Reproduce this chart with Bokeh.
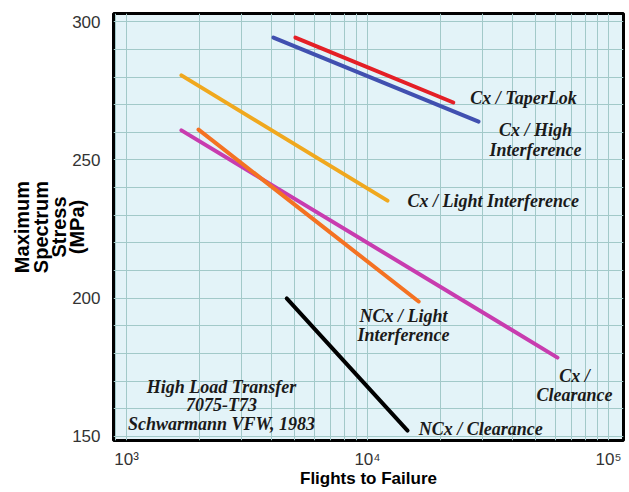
from bokeh.plotting import figure
from bokeh.models import FixedTicker, CustomJSTickFormatter, Label
from bokeh.embed import file_html
from bokeh.resources import INLINE

# ---- data ----
series_names = ["Cx / TaperLok", "Cx / High Interference", "Cx / Light Interference",
                "Cx / Clearance", "NCx / Light Interference", "NCx / Clearance"]
taperlok_n = [5020, 22700]
taperlok_s = [294.3, 270.8]
high_int_n = [4070, 28900]
high_int_s = [294.3, 263.9]
light_int_n = [1690, 12100]
light_int_s = [280.6, 235.3]
clearance_n = [1690, 61400]
clearance_s = [260.7, 178.5]
ncx_light_n = [1990, 16300]
ncx_light_s = [261.0, 198.8]
ncx_clear_n = [4620, 14660]
ncx_clear_s = [199.9, 152.1]

y_ticks = [150, 200, 250, 300]
x_ticks = [1000, 10000, 100000]

colors = ["#e41f26", "#4150b0", "#f0a81e", "#c83caf", "#f47222", "#000000"]

p = figure(frame_width=510, frame_height=427, x_axis_type="log",
           x_range=(883, 115400), y_range=(148.5, 303),
           output_backend="svg", toolbar_location=None,
           min_border_left=113, min_border_right=4, min_border_top=13, min_border_bottom=30)

p.background_fill_color = "#e3f3f8"
p.border_fill_color = "white"
p.outline_line_color = "black"
p.outline_line_width = 3

# grid
minor_x = [m * 10 ** k for k in (2, 3, 4, 5) for m in range(1, 10)]
p.xgrid.ticker = FixedTicker(ticks=minor_x)
p.ygrid.ticker = FixedTicker(ticks=list(range(150, 301, 10)))
for g in (p.xgrid, p.ygrid):
    g.grid_line_color = "#a2c9c9"
    g.grid_line_width = 1
    g.grid_line_alpha = 1

# axes
p.xaxis.ticker = FixedTicker(ticks=x_ticks)
p.xaxis.formatter = CustomJSTickFormatter(code="""
const sup = {"2":"\u00b2","3":"\u00b3","4":"\u2074","5":"\u2075"};
const e = String(Math.round(Math.log10(tick)));
return "10" + sup[e];
""")
p.yaxis.ticker = FixedTicker(ticks=y_ticks)
for ax in (p.xaxis, p.yaxis):
    ax.axis_line_color = None
    ax.major_tick_line_color = None
    ax.minor_tick_line_color = None
    ax.major_label_text_font = "Liberation Sans"
    ax.major_label_text_font_size = "17px"
    ax.major_label_text_color = "#333333"
    ax.axis_label_text_font = "Liberation Sans"
    ax.axis_label_text_font_style = "bold"
    ax.axis_label_text_color = "black"
p.xaxis.major_label_standoff = 3
p.yaxis.major_label_standoff = 7
p.xaxis.axis_label = "Flights to Failure"
p.xaxis.axis_label_text_font_size = "17px"
p.xaxis.axis_label_standoff = -3
p.yaxis.axis_label = "Maximum\nSpectrum\nStress\n(MPa)"
p.yaxis.axis_label_text_font_size = "20px"
p.yaxis.axis_label_standoff = -19
p.yaxis.axis_label_text_line_height = 0.83

# lines
all_n = [taperlok_n, high_int_n, light_int_n, clearance_n, ncx_light_n, ncx_clear_n]
all_s = [taperlok_s, high_int_s, light_int_s, clearance_s, ncx_light_s, ncx_clear_s]
for n, s, c, name in zip(all_n, all_s, colors, series_names):
    p.line(n, s, line_color=c, line_width=4, line_cap="round")

# annotations
ann_text = ["Cx / TaperLok", "Cx / High", "Interference", "Cx / Light Interference",
            "NCx / Light", "Interference", "Cx /", "Clearance", "NCx / Clearance",
            "High Load Transfer", "7075-T73", "Schwarmann VFW, 1983"]
ann_x = [26700, 49800, 49800, 14660, 14090, 14090, 72300, 72300, 16300, 2478, 2478, 2478]
ann_y = [272.6, 260.7, 253.5, 235.3, 193.7, 186.5, 171.7, 164.8, 152.5, 167.7, 161.2, 154.3]
ann_align = ["left", "center", "center", "left", "center", "center", "center", "center",
             "left", "center", "center", "center"]
for t, x, y, a in zip(ann_text, ann_x, ann_y, ann_align):
    p.add_layout(Label(x=x, y=y, text=t, text_align=a, text_baseline="middle",
                       text_font="Liberation Serif", text_font_style="bold italic",
                       text_font_size="18px", text_color="#1a1a1a"))

open("out.html", "w").write(file_html(p, INLINE))
